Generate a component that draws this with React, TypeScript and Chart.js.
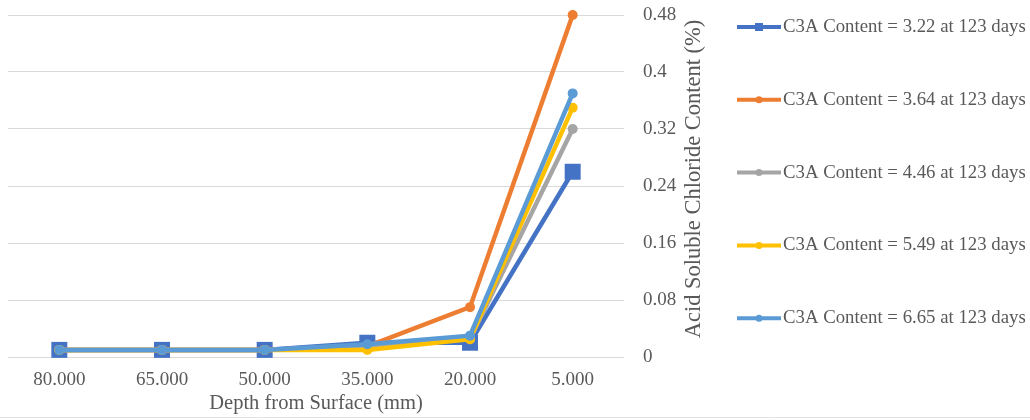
import React, { useEffect, useRef } from "react";
import { Chart, registerables } from "chart.js";

Chart.register(...registerables);

const categories = ["80.000", "65.000", "50.000", "35.000", "20.000", "5.000"];
const seriesLabels = [
  "C3A Content = 3.22 at 123 days",
  "C3A Content = 3.64 at 123 days",
  "C3A Content = 4.46 at 123 days",
  "C3A Content = 5.49 at 123 days",
  "C3A Content = 6.65 at 123 days",
];
const s322 = [0.01, 0.01, 0.01, 0.02, 0.02, 0.26];
const s364 = [0.01, 0.01, 0.01, 0.015, 0.07, 0.48];
const s446 = [0.01, 0.01, 0.01, 0.015, 0.025, 0.32];
const s549 = [0.01, 0.01, 0.01, 0.01, 0.025, 0.35];
const s665 = [0.01, 0.01, 0.01, 0.018, 0.03, 0.37];
const yTickLabels = ["0", "0.08", "0.16", "0.24", "0.32", "0.4", "0.48"];
const xTitle = "Depth from Surface (mm)";
const yTitle = "Acid Soluble Chloride Content (%)";

const colors = ["#4472C4", "#ED7D31", "#A5A5A5", "#FFC000", "#5B9BD5"];
const pointStyles = ["rect", "circle", "circle", "circle", "circle"];
const pointRadii = [11.3, 5, 5, 5, 5];
const TEXT = "#595959";
const FONT = '"Liberation Serif", "Times New Roman", serif';

const overlay = {
  id: "overlay",
  afterDraw(chart: any) {
    const ctx = chart.ctx;
    const ca = chart.chartArea;
    ctx.save();
    ctx.fillStyle = TEXT;
    ctx.textAlign = "center";
    ctx.textBaseline = "middle";
    ctx.font = `20.5px ${FONT}`;
    ctx.fillText(xTitle, (ca.left + ca.right) / 2, ca.bottom + 47);
    ctx.save();
    ctx.font = `22.5px ${FONT}`;
    ctx.translate(ca.right + 70, (ca.top + ca.bottom) / 2 - 7);
    ctx.rotate(-Math.PI / 2);
    ctx.fillText(yTitle, 0, 0);
    ctx.restore();

    // legend
    ctx.font = `18.8px ${FONT}`;
    const x0 = ca.right + 113;
    chart.data.datasets.forEach((ds: any, i: number) => {
      const y = 27 + i * 72.8;
      ctx.strokeStyle = colors[i];
      ctx.lineWidth = 4;
      ctx.beginPath();
      ctx.moveTo(x0, y);
      ctx.lineTo(x0 + 44, y);
      ctx.stroke();
      ctx.fillStyle = colors[i];
      if (pointStyles[i] === "rect") {
        ctx.fillRect(x0 + 22 - 4, y - 4, 8, 8);
      } else {
        ctx.beginPath();
        ctx.arc(x0 + 22, y, 3.5, 0, Math.PI * 2);
        ctx.fill();
      }
      ctx.fillStyle = TEXT;
      ctx.textAlign = "left";
      ctx.fillText(ds.label, x0 + 46, y);
    });

    ctx.strokeStyle = "#E3E3E3";
    ctx.lineWidth = 1;
    ctx.beginPath();
    ctx.moveTo(0, chart.height - 2.5);
    ctx.lineTo(chart.width, chart.height - 2.5);
    ctx.stroke();
    ctx.restore();
  },
};

export default function App() {
  const ref = useRef<HTMLCanvasElement>(null);
  useEffect(() => {
    const series = [s322, s364, s446, s549, s665];
    const chart = new Chart(ref.current!, {
      type: "line",
      data: {
        labels: categories,
        datasets: series.map((d, i) => ({
          label: seriesLabels[i],
          data: d,
          borderColor: colors[i],
          backgroundColor: colors[i],
          borderWidth: 4.5,
          pointStyle: pointStyles[i] as any,
          pointRadius: pointRadii[i],
          pointBorderWidth: 0,
          pointBackgroundColor: colors[i],
          tension: 0,
          clip: false,
          order: 5 - i,
        })),
      },
      options: {
        animation: false,
        responsive: true,
        maintainAspectRatio: false,
        layout: { autoPadding: false, padding: { left: 8, top: 15, right: 0, bottom: 0 } },
        plugins: {
          legend: { display: false },
          tooltip: { enabled: false },
        },
        scales: {
          x: {
            type: "category",
            offset: true,
            grid: { display: false, drawTicks: false },
            border: { display: false },
            ticks: {
              color: TEXT,
              font: { family: FONT, size: 19 },
              padding: 12,
              maxRotation: 0,
              autoSkip: false,
            },
            afterFit(scale: any) {
              scale.height = 63;
              scale.paddingLeft = 0;
              scale.paddingRight = 0;
            },
          },
          y: {
            position: "right",
            min: 0,
            max: 0.48,
            grid: { color: "#D9D9D9", lineWidth: 1, drawTicks: false },
            border: { display: false },
            ticks: {
              stepSize: 0.08,
              color: TEXT,
              font: { family: FONT, size: 19 },
              padding: 19,
              callback: (_v: any, i: number) => yTickLabels[i],
            },
            afterFit(scale: any) {
              scale.width = 406;
              scale.paddingTop = 0;
              scale.paddingBottom = 0;
            },
          },
        },
      },
      plugins: [overlay],
    });
    return () => chart.destroy();
  }, []);
  return (
    <div style={{ position: "absolute", left: 0, top: 0, width: 1030, height: 420 }}>
      <canvas ref={ref} />
    </div>
  );
}
